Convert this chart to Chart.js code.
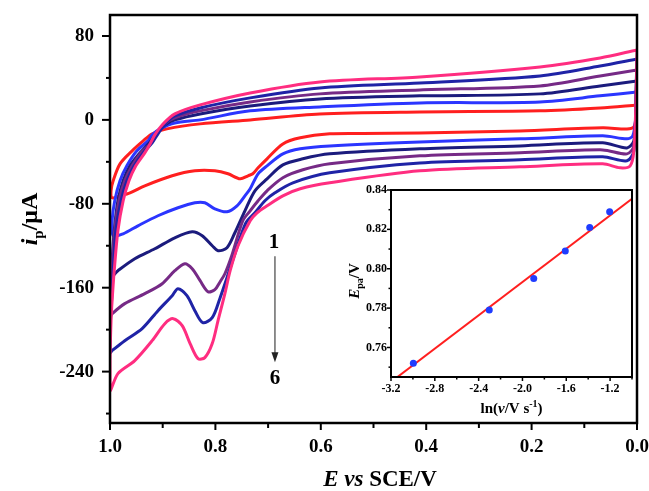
<!DOCTYPE html>
<html><head><meta charset="utf-8">
<script src="https://cdn.jsdelivr.net/npm/chart.js@4.4.1/dist/chart.umd.min.js"></script>
<style>
html,body{margin:0;padding:0;background:#fff;}
#wrap{position:relative;width:649px;height:491px;overflow:hidden;}
#main{position:absolute;left:0;top:0;}
#inset{position:absolute;left:335px;top:170px;}
</style></head><body>
<div id="wrap"><canvas id="main" width="649" height="491"></canvas><canvas id="inset" width="305" height="250"></canvas></div>
<script>
// ---------- DATA ----------
// Cyclic voltammograms: [E (V vs SCE), i_p (µA)], closed loops, curves 1..6
const cv1 = [[0.000,14.3],[0.002,1.0],[0.006,-6.7],[0.019,-8.6],[0.065,-7.6],[0.222,-10.5],[0.412,-12.4],[0.520,-12.9],[0.583,-13.3],[0.639,-17.1],[0.672,-22.9],[0.702,-37.1],[0.719,-45.7],[0.729,-51.4],[0.738,-53.3],[0.753,-56.2],[0.776,-51.4],[0.801,-48.6],[0.839,-48.6],[0.882,-53.3],[0.934,-62.9],[0.962,-69.5],[0.981,-72.4],[0.996,-74.3],[0.998,-67.6],[0.994,-58.1],[0.981,-41.9],[0.958,-29.5],[0.937,-20.0],[0.920,-13.3],[0.892,-8.6],[0.829,-3.8],[0.734,0.0],[0.602,5.7],[0.412,7.6],[0.184,8.6],[0.070,11.4],[0.000,14.3]];
const cv2 = [[0.000,26.7],[0.002,3.8],[0.008,-15.2],[0.019,-18.1],[0.065,-15.2],[0.222,-18.1],[0.412,-21.0],[0.583,-24.8],[0.639,-27.6],[0.672,-32.4],[0.702,-43.8],[0.719,-51.4],[0.734,-65.7],[0.744,-72.4],[0.759,-81.9],[0.778,-87.6],[0.801,-84.8],[0.820,-79.0],[0.839,-79.0],[0.871,-83.8],[0.909,-91.4],[0.947,-101.0],[0.975,-108.6],[0.994,-110.5],[0.996,-96.2],[0.991,-77.1],[0.981,-58.1],[0.968,-43.8],[0.949,-29.5],[0.928,-20.0],[0.920,-14.3],[0.905,-8.6],[0.877,-2.9],[0.829,0.0],[0.734,8.6],[0.602,12.4],[0.412,16.2],[0.184,17.1],[0.070,22.9],[0.000,26.7]];
const cv3 = [[0.000,37.1],[0.002,8.6],[0.006,-20.0],[0.019,-26.7],[0.065,-21.9],[0.222,-24.8],[0.412,-27.6],[0.583,-32.4],[0.634,-37.1],[0.672,-42.9],[0.702,-56.2],[0.725,-67.6],[0.744,-86.7],[0.763,-107.6],[0.778,-121.9],[0.795,-124.8],[0.806,-120.0],[0.825,-110.5],[0.844,-106.7],[0.877,-112.4],[0.915,-122.9],[0.953,-132.4],[0.985,-143.8],[0.996,-148.6],[0.996,-134.3],[0.992,-105.7],[0.985,-77.1],[0.975,-58.1],[0.962,-43.8],[0.943,-31.4],[0.924,-21.0],[0.913,-13.3],[0.896,-4.8],[0.877,0.0],[0.829,5.7],[0.734,13.3],[0.602,20.0],[0.412,22.9],[0.184,24.8],[0.070,32.4],[0.000,37.1]];
const cv4 = [[0.000,47.6],[0.002,18.1],[0.006,-24.8],[0.019,-32.4],[0.065,-28.6],[0.222,-31.4],[0.412,-34.3],[0.583,-41.9],[0.634,-47.6],[0.672,-55.2],[0.702,-67.6],[0.719,-77.1],[0.734,-86.7],[0.748,-96.2],[0.769,-129.5],[0.782,-146.7],[0.791,-154.3],[0.801,-161.9],[0.814,-163.8],[0.829,-153.3],[0.844,-141.9],[0.858,-137.1],[0.877,-143.8],[0.901,-156.2],[0.934,-165.7],[0.972,-175.2],[0.996,-184.8],[1.000,-187.6],[0.998,-172.4],[0.996,-143.8],[0.991,-105.7],[0.983,-77.1],[0.972,-58.1],[0.958,-43.8],[0.941,-31.4],[0.922,-21.9],[0.911,-13.3],[0.896,-3.8],[0.877,1.9],[0.829,8.6],[0.734,17.1],[0.602,24.8],[0.412,28.6],[0.184,32.4],[0.070,41.9],[0.000,47.6]];
const cv5 = [[0.000,58.1],[0.002,27.6],[0.006,-29.5],[0.019,-39.0],[0.065,-35.2],[0.222,-38.1],[0.412,-41.0],[0.583,-50.5],[0.653,-60.0],[0.687,-69.5],[0.706,-77.1],[0.725,-88.6],[0.742,-98.1],[0.763,-127.6],[0.778,-150.5],[0.791,-169.5],[0.806,-188.6],[0.824,-193.3],[0.839,-181.9],[0.854,-167.6],[0.871,-161.0],[0.882,-167.6],[0.909,-181.9],[0.939,-199.0],[0.972,-210.5],[0.996,-220.0],[1.000,-221.9],[1.000,-201.0],[0.998,-181.9],[0.994,-143.8],[0.989,-105.7],[0.979,-77.1],[0.968,-58.1],[0.954,-43.8],[0.937,-31.4],[0.920,-21.9],[0.909,-13.3],[0.894,-2.9],[0.877,3.8],[0.829,11.4],[0.734,21.0],[0.602,30.5],[0.412,35.2],[0.184,41.9],[0.070,51.4],[0.000,58.1]];
const cv6 = [[0.000,66.7],[0.002,18.1],[0.006,-29.5],[0.013,-43.8],[0.032,-45.7],[0.065,-41.9],[0.222,-44.8],[0.412,-48.6],[0.583,-60.0],[0.639,-65.7],[0.672,-72.4],[0.702,-81.9],[0.721,-88.6],[0.734,-96.2],[0.757,-120.0],[0.772,-143.8],[0.782,-165.7],[0.795,-191.4],[0.806,-213.3],[0.820,-226.7],[0.833,-227.6],[0.848,-213.3],[0.863,-196.2],[0.880,-189.5],[0.896,-194.3],[0.920,-210.5],[0.953,-229.5],[0.985,-241.9],[1.000,-258.1],[1.000,-229.5],[0.998,-191.4],[0.996,-172.4],[0.992,-143.8],[0.985,-105.7],[0.975,-77.1],[0.964,-58.1],[0.951,-43.8],[0.934,-31.4],[0.924,-22.9],[0.915,-14.3],[0.901,-4.8],[0.877,5.7],[0.829,14.3],[0.734,25.7],[0.602,36.2],[0.412,41.0],[0.184,50.5],[0.070,59.0],[0.000,66.7]];

const xTicks = [1.0, 0.8, 0.6, 0.4, 0.2, 0.0];
const xMinorTicks = [0.9, 0.7, 0.5, 0.3, 0.1];
const yTicks = [-240, -160, -80, 0, 80];
const yMinorTicks = [-280, -200, -120, -40, 40];

// Inset: ln(v) vs E_pa
const lnV = [-2.996, -2.303, -1.897, -1.609, -1.386, -1.204];
const Epa = [0.752, 0.779, 0.795, 0.809, 0.821, 0.829];
const fitX = [-3.2, -1.0];
const fitY = [0.7425, 0.8355];
const insetXTicks = [-3.2, -2.8, -2.4, -2.0, -1.6, -1.2];
const insetXMinor = [-3.0, -2.6, -2.2, -1.8, -1.4, -1.0];
const insetYTicks = [0.76, 0.78, 0.80, 0.82, 0.84];
const insetYMinor = [0.75, 0.77, 0.79, 0.81, 0.83];

// ---------- STYLE ----------
const curves = [cv1, cv2, cv3, cv4, cv5, cv6];
const colors = ['#ff1f1f', '#2b35ff', '#1b1b7d', '#762a86', '#1f23a6', '#ff2d80'];
const SERIF = "'Liberation Serif', 'Times New Roman', serif";

function fontStr(s){ return (s.it ? 'italic ' : '') + 'bold ' + s.size + 'px ' + SERIF; }
function drawRich(ctx, segs, x, y, rot){
  ctx.save();
  ctx.translate(x, y);
  if (rot) ctx.rotate(-Math.PI/2);
  let total = 0;
  segs.forEach(s => { ctx.font = fontStr(s); s.w = ctx.measureText(s.t).width; total += s.w; });
  let cx = -total/2;
  ctx.textBaseline = 'alphabetic'; ctx.textAlign = 'left'; ctx.fillStyle = '#000';
  segs.forEach(s => { ctx.font = fontStr(s); ctx.fillText(s.t, cx, s.dy || 0); cx += s.w; });
  ctx.restore();
}
function seg(ctx, x1, y1, x2, y2){ ctx.beginPath(); ctx.moveTo(x1, y1); ctx.lineTo(x2, y2); ctx.stroke(); }

const mainPlugin = {
  id: 'mainDeco',
  beforeDraw(chart){
    const ctx = chart.ctx; ctx.save(); ctx.fillStyle = '#fff'; ctx.fillRect(0, 0, chart.width, chart.height); ctx.restore();
  },
  afterDraw(chart){
    const ctx = chart.ctx, ca = chart.chartArea, xs = chart.scales.x, ys = chart.scales.y;
    ctx.save();
    ctx.strokeStyle = '#000'; ctx.lineWidth = 2.5;
    ctx.strokeRect(ca.left, ca.top, ca.right - ca.left, ca.bottom - ca.top);
    ctx.lineWidth = 2;
    xTicks.forEach(v => { const p = xs.getPixelForValue(v); seg(ctx, p, ca.bottom, p, ca.bottom + 7); });
    xMinorTicks.forEach(v => { const p = xs.getPixelForValue(v); seg(ctx, p, ca.bottom, p, ca.bottom + 5); });
    yTicks.forEach(v => { const p = ys.getPixelForValue(v); seg(ctx, ca.left, p, ca.left - 8, p); });
    yMinorTicks.forEach(v => { const p = ys.getPixelForValue(v); seg(ctx, ca.left, p, ca.left - 4, p); });
    // annotation: 1 -> 6 arrow
    const ax = xs.getPixelForValue(0.687);
    ctx.fillStyle = '#000';
    ctx.font = 'bold 21px ' + SERIF; ctx.textAlign = 'center'; ctx.textBaseline = 'alphabetic';
    ctx.fillText('1', xs.getPixelForValue(0.689), ys.getPixelForValue(-122));
    ctx.fillText('6', ax, ys.getPixelForValue(-252));
    const y1 = ys.getPixelForValue(-130), y2 = ys.getPixelForValue(-231);
    ctx.strokeStyle = '#444'; ctx.lineWidth = 1.2;
    seg(ctx, ax, y1, ax, y2 - 8);
    ctx.fillStyle = '#222';
    ctx.beginPath(); ctx.moveTo(ax - 3.5, y2 - 10); ctx.lineTo(ax + 3.5, y2 - 10); ctx.lineTo(ax, y2); ctx.closePath(); ctx.fill();
    ctx.restore();
    // axis titles
    drawRich(ctx, [{t:'E', it:true, size:23}, {t:' vs ', it:true, size:23}, {t:'SCE/V', size:23}], 380, 486, false);
    drawRich(ctx, [{t:'i', it:true, size:24}, {t:'p', size:15, dy:6}, {t:'/μA', size:24}], 37, 219, true);
  }
};

new Chart(document.getElementById('main'), {
  type: 'scatter',
  data: { datasets: curves.map((c, k) => ({
    data: c.map(p => ({x: p[0], y: p[1]})),
    showLine: true, borderColor: colors[k], borderWidth: 3, pointRadius: 0,
    tension: 0.3, fill: false, order: 6 - k
  })) },
  options: {
    responsive: false, animation: false, devicePixelRatio: 1,
    layout: { padding: { left: 0, right: 12, top: 15, bottom: 0 } },
    plugins: { legend: { display: false }, tooltip: { enabled: false } },
    scales: {
      x: {
        type: 'linear', reverse: true, min: 0, max: 1,
        afterBuildTicks: s => { s.ticks = xTicks.map(v => ({value: v})); },
        ticks: { font: { family: SERIF, size: 19, weight: 'bold' }, color: '#000', padding: 13, maxRotation: 0, callback: v => Number(v).toFixed(1) },
        grid: { display: false, drawTicks: false, tickLength: 0 }, border: { display: false },
        afterFit: s => { s.height = 68; s.paddingLeft = 0; s.paddingRight = 0; }
      },
      y: {
        type: 'linear', min: -289, max: 100,
        afterBuildTicks: s => { s.ticks = yTicks.map(v => ({value: v})); },
        ticks: { font: { family: SERIF, size: 19, weight: 'bold' }, color: '#000', padding: 16, callback: v => String(v) },
        grid: { display: false, drawTicks: false, tickLength: 0 }, border: { display: false },
        afterFit: s => { s.width = 110; s.paddingTop = 0; s.paddingBottom = 0; }
      }
    }
  },
  plugins: [mainPlugin]
});

const insetPlugin = {
  id: 'insetDeco',
  beforeDatasetsDraw(chart){
    const ctx = chart.ctx, ca = chart.chartArea;
    ctx.save(); ctx.fillStyle = '#fff'; ctx.fillRect(ca.left, ca.top, ca.right - ca.left, ca.bottom - ca.top); ctx.restore();
  },
  afterDraw(chart){
    const ctx = chart.ctx, ca = chart.chartArea, xs = chart.scales.x, ys = chart.scales.y;
    ctx.save();
    ctx.strokeStyle = '#000'; ctx.lineWidth = 2;
    ctx.strokeRect(ca.left, ca.top, ca.right - ca.left, ca.bottom - ca.top);
    ctx.lineWidth = 1.5;
    insetXTicks.forEach(v => { const p = xs.getPixelForValue(v); seg(ctx, p, ca.bottom, p, ca.bottom + 4); });
    insetXMinor.forEach(v => { const p = xs.getPixelForValue(v); seg(ctx, p, ca.bottom, p, ca.bottom + 2.5); });
    insetYTicks.forEach(v => { const p = ys.getPixelForValue(v); seg(ctx, ca.left, p, ca.left - 4, p); });
    insetYMinor.forEach(v => { const p = ys.getPixelForValue(v); seg(ctx, ca.left, p, ca.left - 2.5, p); });
    ctx.restore();
    drawRich(ctx, [{t:'ln(', size:15}, {t:'v', it:true, size:15}, {t:'/V s', size:15}, {t:'-1', size:10, dy:-6}, {t:')', size:15}], (ca.left + ca.right)/2, 243, false);
    drawRich(ctx, [{t:'E', it:true, size:15}, {t:'pa', size:10, dy:4}, {t:'/V', size:15}], 24, 111, true);
  }
};

new Chart(document.getElementById('inset'), {
  type: 'scatter',
  data: { datasets: [
    { data: lnV.map((x, k) => ({x: x, y: Epa[k]})), pointRadius: 3.5, pointBackgroundColor: '#1f3cff', pointBorderWidth: 0, showLine: false, order: 0 },
    { data: fitX.map((x, k) => ({x: x, y: fitY[k]})), showLine: true, borderColor: '#ff1f1f', borderWidth: 2, pointRadius: 0, order: 1 }
  ] },
  options: {
    responsive: false, animation: false, devicePixelRatio: 1,
    layout: { padding: { left: 0, right: 8, top: 20, bottom: 0 } },
    plugins: { legend: { display: false }, tooltip: { enabled: false } },
    scales: {
      x: {
        type: 'linear', min: -3.2, max: -1.0,
        afterBuildTicks: s => { s.ticks = insetXTicks.map(v => ({value: v})); },
        ticks: { font: { family: SERIF, size: 12, weight: 'bold' }, color: '#000', padding: 5, maxRotation: 0, callback: v => Number(v).toFixed(1) },
        grid: { display: false, drawTicks: false, tickLength: 0 }, border: { display: false },
        afterFit: s => { s.height = 43; s.paddingLeft = 0; s.paddingRight = 0; }
      },
      y: {
        type: 'linear', min: 0.745, max: 0.84,
        afterBuildTicks: s => { s.ticks = insetYTicks.map(v => ({value: v})); },
        ticks: { font: { family: SERIF, size: 12, weight: 'bold' }, color: '#000', padding: 4, callback: v => Number(v).toFixed(2) },
        grid: { display: false, drawTicks: false, tickLength: 0 }, border: { display: false },
        afterFit: s => { s.width = 56; s.paddingTop = 0; s.paddingBottom = 0; }
      }
    }
  },
  plugins: [insetPlugin]
});
</script>
</body></html>
